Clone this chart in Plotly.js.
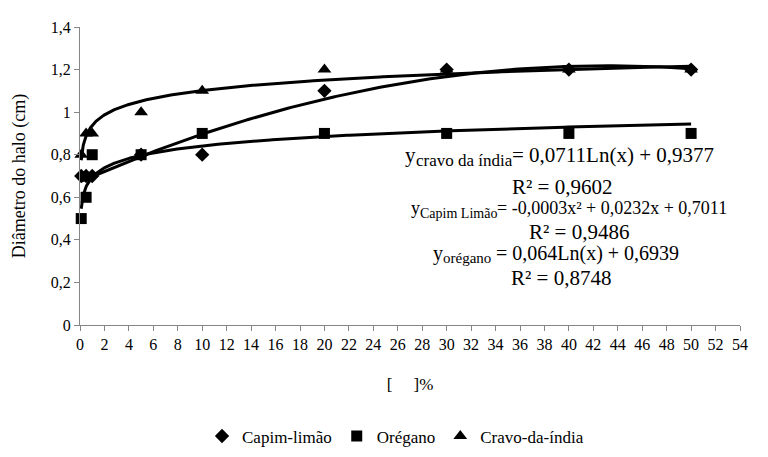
<!DOCTYPE html>
<html>
<head>
<meta charset="utf-8">
<script src="https://cdn.plot.ly/plotly-3.0.1.min.js"></script>
<style>
  html, body { margin: 0; padding: 0; background: #fff; }
  #chart { width: 768px; height: 457px; }
</style>
</head>
<body>
<div id="chart"></div>
<script>
// ---- Data ----
const concentrations = [0.1, 0.5, 1, 5, 10, 20, 30, 40, 50];
const capimLimao     = [0.7, 0.7, 0.7, 0.8, 0.8, 1.1, 1.2, 1.2, 1.2];
const oregano        = [0.5, 0.6, 0.8, 0.8, 0.9, 0.9, 0.9, 0.9, 0.9];
const cravoDaIndia   = [0.8, 0.9, 0.9, 1.0, 1.1, 1.2, 1.2, 1.2, 1.2];

const seriesNames = ["Capim-limão", "Orégano", "Cravo-da-índia"];

const xTickValues = [0,2,4,6,8,10,12,14,16,18,20,22,24,26,28,30,32,34,36,38,40,42,44,46,48,50,52,54];
const yTickValues = [0, 0.2, 0.4, 0.6, 0.8, 1, 1.2, 1.4];
const yTickLabels = ["0", "0,2", "0,4", "0,6", "0,8", "1", "1,2", "1,4"];

// Equation texts: [symbol, subscript, rest]
const eqCravo = ["y", "cravo da índia", "= 0,0711Ln(x) + 0,9377"];
const eqCapim = ["y", "Capim Limão", "= -0,0003x\u00b2 + 0,0232x + 0,7011"];
const eqOreg  = ["y", "orégano", " = 0,064Ln(x) + 0,6939"];
const r2Cravo = "R\u00b2 = 0,9602";
const r2Capim = "R\u00b2 = 0,9486";
const r2Oreg  = "R\u00b2 = 0,8748";

// ---- Trendlines: least-squares fits computed from the data ----
function logFit(xs, ys) {
  const lx = xs.map(Math.log);
  const n = xs.length;
  const mx = lx.reduce((a,b)=>a+b,0)/n, my = ys.reduce((a,b)=>a+b,0)/n;
  let sxy = 0, sxx = 0;
  for (let i=0;i<n;i++){ sxy += (lx[i]-mx)*(ys[i]-my); sxx += (lx[i]-mx)*(lx[i]-mx); }
  const b = sxy/sxx, a = my - b*mx;
  return x => a + b*Math.log(x);
}
function polyFit2(xs, ys) {
  const S = [0,0,0,0,0], T = [0,0,0];
  for (let i=0;i<xs.length;i++){
    let p = 1;
    for (let k=0;k<5;k++){ S[k] += p; if (k<3) T[k] += p*ys[i]; p *= xs[i]; }
  }
  const M = [[S[0],S[1],S[2],T[0]],[S[1],S[2],S[3],T[1]],[S[2],S[3],S[4],T[2]]];
  for (let c=0;c<3;c++){
    for (let r=c+1;r<3;r++){
      const f = M[r][c]/M[c][c];
      for (let k=c;k<4;k++) M[r][k] -= f*M[c][k];
    }
  }
  const coef = [0,0,0];
  for (let r=2;r>=0;r--){
    let s = M[r][3];
    for (let k=r+1;k<3;k++) s -= M[r][k]*coef[k];
    coef[r] = s/M[r][r];
  }
  return x => coef[0] + coef[1]*x + coef[2]*x*x;
}
function sampleCurve(fn, xmin, xmax, steps) {
  const xs = [], ys = [];
  for (let i=0;i<=steps;i++){
    const t = i/steps;
    const x = xmin + (xmax-xmin)*t*t;
    xs.push(x); ys.push(fn(x));
  }
  return {xs, ys};
}
const xMin = Math.min(...concentrations), xMax = Math.max(...concentrations);
const fitCapim = sampleCurve(polyFit2(concentrations, capimLimao), xMin, xMax, 300);
const fitOreg  = sampleCurve(logFit(concentrations, oregano), xMin, xMax, 300);
const fitCravo = sampleCurve(logFit(concentrations, cravoDaIndia), xMin, xMax, 300);

const FONT = "Liberation Serif";          // large texts
const FONT_SMALL = "Times New Roman";     // small texts (metric alias of Liberation Serif)
const lineStyle = {color: "#000", width: 3};

const traces = [
  {x: fitCapim.xs, y: fitCapim.ys, mode: "lines", line: lineStyle, showlegend: false, hoverinfo: "skip", cliponaxis: false},
  {x: fitOreg.xs,  y: fitOreg.ys,  mode: "lines", line: lineStyle, showlegend: false, hoverinfo: "skip", cliponaxis: false},
  {x: fitCravo.xs, y: fitCravo.ys, mode: "lines", line: lineStyle, showlegend: false, hoverinfo: "skip", cliponaxis: false},
  {x: concentrations, y: capimLimao, name: seriesNames[0], mode: "markers", cliponaxis: false,
   marker: {symbol: "diamond", size: 11, color: "#000"}},
  {x: concentrations, y: oregano, name: seriesNames[1], mode: "markers", cliponaxis: false,
   marker: {symbol: "square", size: 11, color: "#000"}},
  {x: concentrations, y: cravoDaIndia, name: seriesNames[2], mode: "markers", cliponaxis: false,
   marker: {symbol: "triangle-up", size: 12, color: "#000"}}
];

// Plot-area geometry used only to place the text boxes
const PLOT_L = 80, PLOT_W = 660, PLOT_B = 325, PLOT_H = 298, X_MAX = 54;
function annPx(text, px, py, size, anchor, family) {
  return {text, x: (px - PLOT_L) / PLOT_W * X_MAX, y: (PLOT_B - py) / PLOT_H * 1.4,
          xref: "x", yref: "y", showarrow: false, xanchor: anchor || "left", yanchor: "middle",
          borderpad: 0, borderwidth: 0, font: {family: family || FONT, size: size, color: "#000"}};
}
function eqLine(parts, left, cy, mainSize, subSize, subWidth) {
  const yW = 0.5 * mainSize;
  return [
    annPx(parts[0], left, cy, mainSize),
    annPx(parts[1], left + yW, cy + 5, subSize, "left", FONT_SMALL),
    annPx(parts[2], left + yW + subWidth, cy, mainSize)
  ];
}

const layout = {
  width: 768, height: 457,
  margin: {l: 80, r: 28, t: 27, b: 132},
  paper_bgcolor: "#fff", plot_bgcolor: "#fff",
  font: {family: FONT_SMALL, size: 16, color: "#000"},
  showlegend: true,
  legend: {orientation: "h", xref: "container", yref: "container", x: 0.515, y: 0.045,
           xanchor: "center", yanchor: "middle", font: {family: FONT_SMALL, size: 17, color: "#000"},
           itemwidth: 30, tracegroupgap: 0},
  xaxis: {
    range: [0, 54], tickmode: "array", tickvals: xTickValues,
    showgrid: false, zeroline: false, showline: true, linecolor: "#868686", linewidth: 1,
    ticks: "outside", ticklen: 5, tickcolor: "#868686",
    tickfont: {family: FONT_SMALL, size: 16, color: "#000"},
    title: {text: "[\u00a0\u00a0\u00a0\u00a0\u00a0]%", font: {family: FONT_SMALL, size: 17, color: "#000"}, standoff: 25}
  },
  yaxis: {
    range: [0, 1.4], tickmode: "array", tickvals: yTickValues, ticktext: yTickLabels,
    showgrid: false, zeroline: false, showline: true, linecolor: "#868686", linewidth: 1,
    ticks: "outside", ticklen: 5, tickcolor: "#868686",
    tickfont: {family: FONT_SMALL, size: 16, color: "#000"},
    title: {text: "Diâmetro do halo (cm)", font: {family: FONT, size: 18, color: "#000"}, standoff: 20}
  },
  annotations: [].concat(
    eqLine(eqCravo, 405, 155, 21, 17, 96.3),
    [annPx(r2Cravo, 562, 187, 21, "center")],
    eqLine(eqCapim, 411, 208, 18, 14, 77.4),
    [annPx(r2Capim, 579, 232, 21, "center")],
    eqLine(eqOreg, 433, 253, 20, 15, 48.3),
    [annPx(r2Oreg, 561, 278, 21, "center")]
  )
};

Plotly.newPlot("chart", traces, layout, {displayModeBar: false, staticPlot: true});
</script>
</body>
</html>
